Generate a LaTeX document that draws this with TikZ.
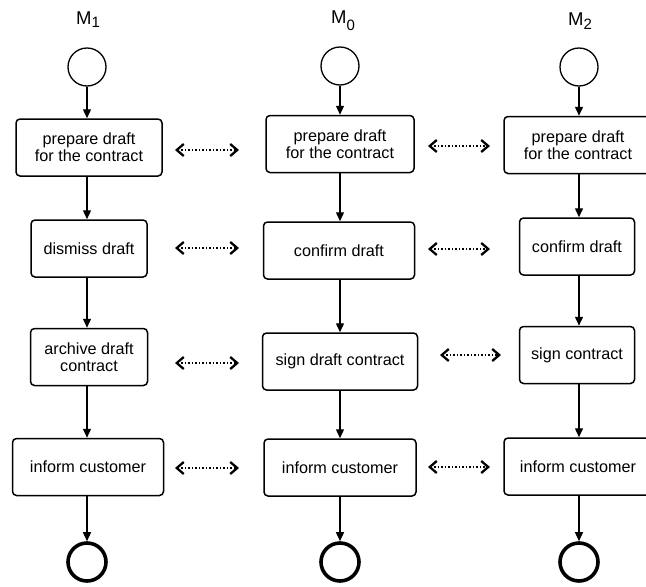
\documentclass[tikz,border=0pt]{standalone}
\usepackage{fontspec}
\setmainfont{Liberation Sans}
\usetikzlibrary{arrows.meta}
\tikzset{
  task/.style={draw, line width=1.5pt, rounded corners=4pt, minimum height=57pt, align=center, inner sep=2pt, font=\fontsize{16.2}{16.8}\selectfont, fill=white},
  startev/.style={draw, circle, line width=1.3pt, minimum size=38pt, inner sep=0pt},
  endev/.style={draw, circle, line width=3.6pt, minimum size=38pt, inner sep=0pt},
  flow/.style={line width=1.4pt, -{Triangle[length=9pt,width=8pt]}},
  corr/.style={line width=1.5pt, dotted, {Straight Barb[length=7pt,width=12pt,line width=2.3pt]}-{Straight Barb[length=7pt,width=12pt,line width=2.3pt]}},
  mlabel/.style={font=\fontsize{18.5}{18.5}\selectfont, inner sep=0pt}
}
\begin{document}
\begin{tikzpicture}[x=1pt,y=-1pt]
\useasboundingbox (0,0) rectangle (646,587);
% labels
\node[mlabel] (m1) at (88,20) {M\raisebox{-0.3ex}{\fontsize{15}{15}\selectfont 1}};
\node[mlabel] (m0) at (343,21) {M\raisebox{-0.7ex}{\fontsize{15}{15}\selectfont 0}};
\node[mlabel] (m2) at (580,21) {M\raisebox{-0.4ex}{\fontsize{15}{15}\selectfont 2}};
% column 1
\node[startev] (s1) at (87,67) {};
\node[task, minimum width=146pt] (a1) at (89,147.5) {prepare draft\\for the contract};
\node[task, minimum width=116pt] (a2) at (89,248.5) {dismiss draft};
\node[task, minimum width=117pt] (a3) at (89,357) {archive draft\\contract};
\node[task, minimum width=151pt] (a4) at (88,467) {inform customer};
\node[endev] (e1) at (87,562) {};
% column 2
\node[startev] (s0) at (340,66) {};
\node[task, minimum width=148pt] (b1) at (340,144) {prepare draft\\for the contract};
\node[task, minimum width=151pt] (b2) at (339,250.5) {confirm draft};
\node[task, minimum width=155pt] (b3) at (340,361.5) {sign draft contract};
\node[task, minimum width=152pt] (b4) at (340,467.5) {inform customer};
\node[endev] (e0) at (340,562) {};
% column 3
\node[startev] (s2) at (579,67) {};
\node[task, minimum width=148pt] (c1) at (578,145) {prepare draft\\for the contract};
\node[task, minimum width=115pt] (c2) at (577,246.5) {confirm draft};
\node[task, minimum width=115pt] (c3) at (577,355) {sign contract};
\node[task, minimum width=148pt] (c4) at (578,466.5) {inform customer};
\node[endev] (e2) at (579,562) {};
% flows
\draw[flow] (s1.south) -- (s1.south |- a1.north);
\draw[flow] (a1.south -| s1) -- (a2.north -| s1);
\draw[flow] (a2.south -| s1) -- (a3.north -| s1);
\draw[flow] (a3.south -| s1) -- (a4.north -| s1);
\draw[flow] (a4.south -| s1) -- (e1.north);
\draw[flow] (s0.south) -- (s0.south |- b1.north);
\draw[flow] (b1.south -| s0) -- (b2.north -| s0);
\draw[flow] (b2.south -| s0) -- (b3.north -| s0);
\draw[flow] (b3.south -| s0) -- (b4.north -| s0);
\draw[flow] (b4.south -| s0) -- (e0.north);
\draw[flow] (s2.south) -- (s2.south |- c1.north);
\draw[flow] (c1.south -| s2) -- (c2.north -| s2);
\draw[flow] (c2.south -| s2) -- (c3.north -| s2);
\draw[flow] (c3.south -| s2) -- (c4.north -| s2);
\draw[flow] (c4.south -| s2) -- (e2.north);
% correspondences
\coordinate (l1a) at (175,150); \coordinate (l1b) at (239,150);
\coordinate (r1a) at (428,146); \coordinate (r1b) at (490,146);
\coordinate (l2a) at (175,248); \coordinate (l2b) at (239,248);
\coordinate (r2a) at (428,249); \coordinate (r2b) at (490,249);
\coordinate (l3a) at (175,363); \coordinate (l3b) at (239,363);
\coordinate (r3a) at (440,355); \coordinate (r3b) at (501,355);
\coordinate (l4a) at (175,468); \coordinate (l4b) at (239,468);
\coordinate (r4a) at (428,467); \coordinate (r4b) at (490,467);
\draw[corr] (l1a) -- (l1b);
\draw[corr] (r1a) -- (r1b);
\draw[corr] (l2a) -- (l2b);
\draw[corr] (r2a) -- (r2b);
\draw[corr] (l3a) -- (l3b);
\draw[corr] (r3a) -- (r3b);
\draw[corr] (l4a) -- (l4b);
\draw[corr] (r4a) -- (r4b);
\end{tikzpicture}
\end{document}
